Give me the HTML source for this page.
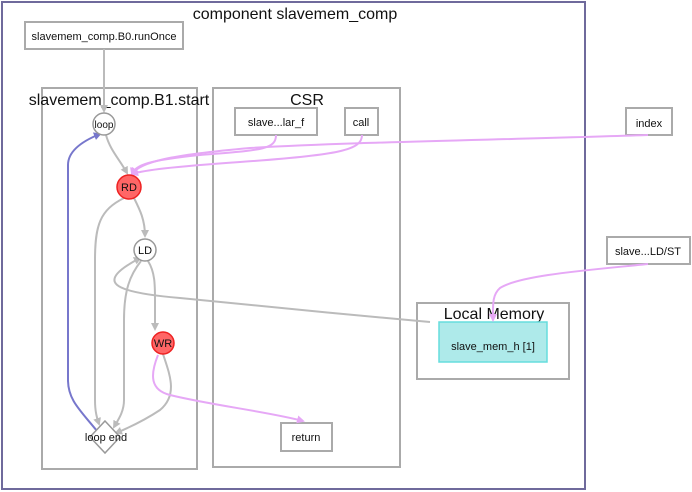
<!DOCTYPE html>
<html><head><meta charset="utf-8"><style>
html,body{margin:0;padding:0;background:#fff;}
svg{display:block;font-family:"Liberation Sans",Arial,sans-serif;}
</style></head><body>
<svg width="692" height="492" viewBox="0 0 692 492" xmlns="http://www.w3.org/2000/svg">
<defs>
<marker id="ag" markerWidth="8" markerHeight="8" refX="6" refY="4" orient="auto" markerUnits="userSpaceOnUse"><path d="M0,0 L8,4 L0,8 z" fill="#bbb"/></marker>
<marker id="ap" markerWidth="8" markerHeight="8" refX="6" refY="4" orient="auto" markerUnits="userSpaceOnUse"><path d="M0,0 L8,4 L0,8 z" fill="#e6a8f6"/></marker>
<marker id="ab" markerWidth="8" markerHeight="8" refX="6" refY="4" orient="auto" markerUnits="userSpaceOnUse"><path d="M0,0 L8,4 L0,8 z" fill="#7777cc"/></marker>
</defs>
<rect x="2" y="2" width="583" height="487" fill="#fff" stroke="#6f6a9c" stroke-width="2"/>
<text x="295" y="19" font-size="16" text-anchor="middle" fill="#111">component slavemem_comp</text>
<rect x="42" y="88" width="155" height="381" fill="none" stroke="#aaa" stroke-width="2"/>
<text x="119" y="105" font-size="16" text-anchor="middle" fill="#111">slavemem_comp.B1.start</text>
<rect x="213" y="88" width="187" height="379" fill="none" stroke="#aaa" stroke-width="2"/>
<text x="307" y="105" font-size="16" text-anchor="middle" fill="#111">CSR</text>
<rect x="417" y="303" width="152" height="76" fill="none" stroke="#aaa" stroke-width="2"/>
<text x="494" y="319" font-size="16" text-anchor="middle" fill="#111">Local Memory</text>
<rect x="439" y="322" width="108" height="40" fill="#aeeaea" stroke="#6dd" stroke-width="1.5"/>
<text x="493" y="350" font-size="11" text-anchor="middle" fill="#111">slave_mem_h [1]</text>

<rect x="25" y="22" width="158" height="27" fill="#fff" stroke="#aaa" stroke-width="2"/>
<text x="104" y="40" font-size="11" text-anchor="middle" fill="#111">slavemem_comp.B0.runOnce</text>
<rect x="235" y="108" width="82" height="27" fill="#fff" stroke="#aaa" stroke-width="2"/>
<text x="276" y="126" font-size="11" text-anchor="middle" fill="#111">slave...lar_f</text>
<rect x="345" y="108" width="33" height="27" fill="#fff" stroke="#aaa" stroke-width="2"/>
<text x="361" y="126" font-size="11" text-anchor="middle" fill="#111">call</text>
<rect x="626" y="108" width="46" height="27" fill="#fff" stroke="#aaa" stroke-width="2"/>
<text x="649" y="127" font-size="11" text-anchor="middle" fill="#111">index</text>
<rect x="607" y="237" width="83" height="27" fill="#fff" stroke="#aaa" stroke-width="2"/>
<text x="648" y="255" font-size="11" text-anchor="middle" fill="#111">slave...LD/ST</text>
<rect x="281" y="423" width="51" height="28" fill="#fff" stroke="#aaa" stroke-width="2"/>
<text x="306" y="441" font-size="11" text-anchor="middle" fill="#111">return</text>

<g fill="none" stroke="#bbb" stroke-width="2">
<path d="M104,49 L104,111" marker-end="url(#ag)"/>
<path d="M106,135 C110,150 120,160 127,173" marker-end="url(#ag)"/>
<path d="M134,198 C140,210 145,220 145,236" marker-end="url(#ag)"/>
<path d="M124,198 C100,210 95,225 95,260 L95,400 C95,412 97,418 99,424" marker-end="url(#ag)"/>
<path d="M141,261 C130,275 124,290 124,320 L124,400 C124,412 118,420 114,427" marker-end="url(#ag)"/>
<path d="M148,261 C155,272 155,285 155,300 L155,329" marker-end="url(#ag)"/>
<path d="M163,354 C170,375 178,395 160,410 C145,420 128,428 116,433" marker-end="url(#ag)"/>
<path d="M430,322 C350,315 250,305 180,298 C110,292 95,282 140,258" marker-end="url(#ag)"/>
</g>
<path d="M97,431 C80,410 68,400 68,380 L68,165 C68,150 85,140 100,134" fill="none" stroke="#7777cc" stroke-width="2" marker-end="url(#ab)"/>
<g fill="none" stroke="#e6a8f6" stroke-width="2">
<path d="M276,135 C276,150 260,150 200,155 C150,160 135,165 132,174" marker-end="url(#ap)"/>
<path d="M362,135 C362,150 340,155 240,162 C170,167 145,170 132,174" marker-end="url(#ap)"/>
<path d="M648,135 C500,140 350,142 250,148 C170,155 140,162 132,174" marker-end="url(#ap)"/>
<path d="M648,264 C590,270 520,275 500,288 C492,295 493,305 493,320" marker-end="url(#ap)"/>
<path d="M158,355 C150,375 150,390 170,395 C210,405 270,412 303,421" marker-end="url(#ap)"/>
</g>

<circle cx="104" cy="124" r="11" fill="#fff" stroke="#999" stroke-width="1.5"/>
<text x="104" y="128" font-size="10" text-anchor="middle" fill="#111">loop</text>
<circle cx="129" cy="187" r="12" fill="#ff6666" stroke="#e22" stroke-width="1.5"/>
<text x="129" y="191" font-size="11" text-anchor="middle" fill="#111">RD</text>
<circle cx="145" cy="250" r="11" fill="#fff" stroke="#999" stroke-width="1.5"/>
<text x="145" y="254" font-size="11" text-anchor="middle" fill="#111">LD</text>
<circle cx="163" cy="343" r="11" fill="#ff6666" stroke="#e22" stroke-width="1.5"/>
<text x="163" y="347" font-size="11" text-anchor="middle" fill="#111">WR</text>
<path d="M105,421 L120,437 L105,453 L90,437 z" fill="#fff" stroke="#999" stroke-width="1.5"/>
<text x="106" y="441" font-size="11" text-anchor="middle" fill="#111">loop end</text>
</svg>
</body></html>
